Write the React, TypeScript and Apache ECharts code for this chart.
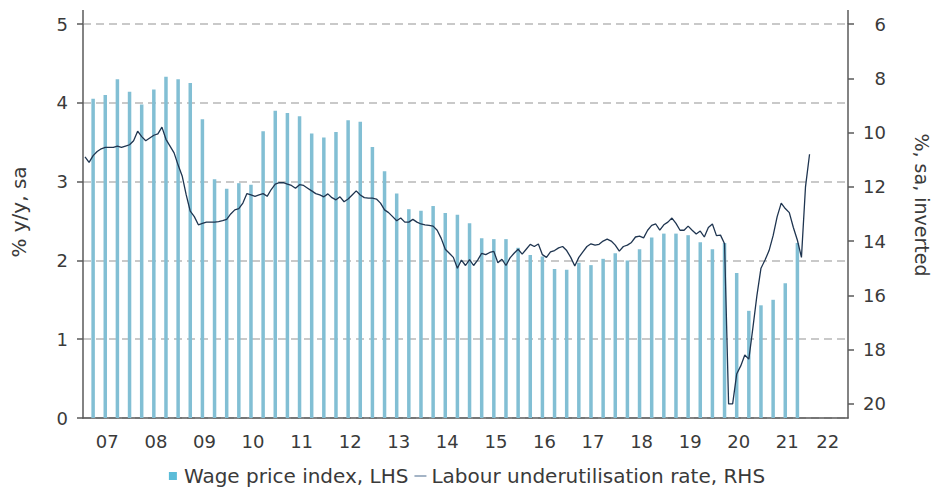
import { useEffect, useRef } from 'react';
import * as echarts from 'echarts';

const FONT = '"DejaVu Sans", Verdana, sans-serif';
const TEXT_COLOR = '#3a3a3a';
const AXIS_COLOR = '#5a5a5a';

// x-axis year labels (2007 .. 2022)
const yearLabels = ['07', '08', '09', '10', '11', '12', '13', '14', '15', '16', '17', '18', '19', '20', '21', '22'];

// Wage price index, % y/y, quarterly, Q1 2007 .. Q3 2021 (LHS)
const wagePriceIndex = [
  4.05, 4.1, 4.3, 4.14, 3.98, 4.17, 4.33, 4.3, 4.25, 3.79,
  3.03, 2.91, 2.98, 2.96, 3.64, 3.9, 3.87, 3.83, 3.61, 3.56,
  3.63, 3.78, 3.76, 3.44, 3.13, 2.85, 2.65, 2.63, 2.69, 2.6,
  2.58, 2.47, 2.28, 2.27, 2.27, 2.16, 2.07, 2.05, 1.89, 1.88,
  1.97, 1.94, 2.02, 2.09, 2.0, 2.14, 2.29, 2.34, 2.34, 2.32,
  2.23, 2.14, 2.22, 1.84, 1.36, 1.43, 1.5, 1.71, 2.22,
];

// Labour underutilisation rate, %, monthly, Jan 2007 .. Dec 2021 (RHS, inverted)
const underutil2007 = [10.9, 11.1, 10.85, 10.7, 10.6, 10.55, 10.55, 10.55, 10.5, 10.55, 10.5, 10.45];
const underutil2008 = [10.3, 9.95, 10.15, 10.3, 10.2, 10.1, 10.05, 9.8, 10.25, 10.5, 10.75, 11.2];
const underutil2009 = [11.6, 12.3, 12.9, 13.1, 13.4, 13.35, 13.3, 13.3, 13.3, 13.28, 13.25, 13.2];
const underutil2010 = [13.0, 12.85, 12.8, 12.6, 12.25, 12.3, 12.35, 12.3, 12.25, 12.35, 12.1, 11.9];
const underutil2011 = [11.85, 11.85, 11.9, 11.95, 12.05, 11.92, 11.95, 12.05, 12.15, 12.25, 12.3, 12.37];
const underutil2012 = [12.26, 12.4, 12.48, 12.37, 12.55, 12.45, 12.3, 12.15, 12.3, 12.4, 12.42, 12.42];
const underutil2013 = [12.45, 12.6, 12.85, 12.95, 13.1, 13.25, 13.15, 13.3, 13.3, 13.2, 13.3, 13.37];
const underutil2014 = [13.4, 13.42, 13.45, 13.6, 13.9, 14.3, 14.45, 14.6, 15.0, 14.7, 14.9, 14.68];
const underutil2015 = [14.9, 14.7, 14.45, 14.5, 14.42, 14.38, 14.8, 14.67, 14.9, 14.62, 14.45, 14.3];
const underutil2016 = [14.48, 14.3, 14.12, 14.2, 14.11, 14.5, 14.6, 14.4, 14.35, 14.25, 14.2, 14.35];
const underutil2017 = [14.6, 14.92, 14.6, 14.4, 14.2, 14.1, 14.15, 14.12, 14.0, 13.93, 14.0, 14.15];
const underutil2018 = [14.37, 14.2, 14.15, 14.05, 13.85, 13.82, 13.88, 13.6, 13.42, 13.37, 13.6, 13.4];
const underutil2019 = [13.3, 13.15, 13.35, 13.6, 13.6, 13.45, 13.6, 13.74, 13.63, 13.85, 13.5, 13.37];
const underutil2020 = [13.8, 13.78, 14.1, 20.0, 20.0, 18.9, 18.6, 18.2, 18.35, 17.2, 16.0, 15.0];
const underutil2021 = [14.7, 14.35, 13.8, 13.1, 12.6, 12.8, 12.95, 13.5, 13.97, 14.6, 12.0, 10.8];

const underutilisation = [
  ...underutil2007, ...underutil2008, ...underutil2009, ...underutil2010, ...underutil2011,
  ...underutil2012, ...underutil2013, ...underutil2014, ...underutil2015, ...underutil2016,
  ...underutil2017, ...underutil2018, ...underutil2019, ...underutil2020, ...underutil2021,
];

const WAGE_NAME = 'Wage price index, LHS';
const LABOUR_NAME = 'Labour underutilisation rate, RHS';

export default function App() {
  const ref = useRef<HTMLDivElement>(null);

  useEffect(() => {
    if (!ref.current) return;
    const chart = echarts.init(ref.current, null, { renderer: 'svg' });

    // monthly categories Jan 2007 .. Sep 2022
    const months: string[] = [];
    for (let y = 2007; y <= 2022; y++) {
      for (let m = 1; m <= 12; m++) {
        if (y === 2022 && m > 9) break;
        months.push(`${y}-${String(m).padStart(2, '0')}`);
      }
    }
    const barData = months.map((_, i) => {
      const q = (i - 2) / 3;
      return i % 3 === 2 && q < wagePriceIndex.length ? wagePriceIndex[q] : null;
    });
    const lineData = months.map((_, i) => (i < underutilisation.length ? underutilisation[i] : null));

    const labelStyle = { fontFamily: FONT, fontSize: 18, color: TEXT_COLOR };

    chart.setOption({
      animation: false,
      grid: { left: 83, right: 86, top: 24, bottom: 70 },
      legend: {
        left: 'center',
        top: 461,
        itemWidth: 12,
        itemHeight: 8,
        itemGap: 6,
        symbolKeepAspect: true,
        textStyle: { fontFamily: FONT, fontSize: 20, color: TEXT_COLOR },
        data: [
          { name: WAGE_NAME, icon: 'path://M0,0H8V8H0Z', itemStyle: { color: '#5bbcd8' } },
          { name: LABOUR_NAME, icon: 'path://M0,0H12V1.6H0Z', itemStyle: { color: '#8ea2b8' } },
        ],
      },
      xAxis: {
        type: 'category',
        data: months,
        boundaryGap: true,
        axisLine: { lineStyle: { color: AXIS_COLOR, width: 1.5 } },
        axisTick: {
          interval: (i: number) => i % 12 === 0,
          length: 6,
          lineStyle: { color: AXIS_COLOR, width: 1.5 },
        },
        axisLabel: {
          ...labelStyle,
          interval: (i: number) => i % 12 === 6 || i === 184,
          formatter: (v: string) => yearLabels[parseInt(v.slice(0, 4), 10) - 2007],
          margin: 14,
          padding: [0, 4, 0, 0],
        },
        splitLine: { show: false },
      },
      yAxis: [
        {
          type: 'value',
          min: 0,
          max: 5,
          interval: 1,
          axisLine: { show: true, lineStyle: { color: AXIS_COLOR, width: 1.5 } },
          axisTick: { show: true, length: 6, lineStyle: { color: AXIS_COLOR, width: 1.5 } },
          axisLabel: { ...labelStyle, margin: 15 },
          splitLine: { show: true, lineStyle: { type: [8, 5], color: '#b8b8b8', width: 1.6 } },
        },
        {
          type: 'value',
          position: 'right',
          inverse: true,
          min: 6,
          max: 20.52,
          interval: 2,
          axisLine: { show: true, lineStyle: { color: AXIS_COLOR, width: 1.5 } },
          axisTick: { show: true, length: 6, lineStyle: { color: AXIS_COLOR, width: 1.5 } },
          axisLabel: { ...labelStyle, margin: 38, align: 'right', showMaxLabel: false },
          splitLine: { show: false },
        },
      ],
      series: [
        {
          type: 'bar',
          name: WAGE_NAME,
          data: barData,
          barWidth: 3.5,
          itemStyle: { color: '#82bfd4' },
          z: 2,
        },
        {
          type: 'line',
          name: LABOUR_NAME,
          yAxisIndex: 1,
          data: lineData,
          symbol: 'none',
          showSymbol: false,
          lineStyle: { color: '#1f3550', width: 1.3 },
          itemStyle: { color: '#1f3550' },
          z: 3,
        },
      ],
      graphic: [
        {
          type: 'text',
          x: 19,
          y: 212,
          rotation: Math.PI / 2,
          style: { text: '% y/y, sa', fontFamily: FONT, fontSize: 20, fill: TEXT_COLOR, align: 'center', verticalAlign: 'middle' },
        },
        {
          type: 'text',
          x: 922,
          y: 205,
          rotation: -Math.PI / 2,
          style: { text: '%, sa, inverted', fontFamily: FONT, fontSize: 19, fill: TEXT_COLOR, align: 'center', verticalAlign: 'middle' },
        },
        { type: 'line', shape: { x1: 83, y1: 10, x2: 83, y2: 24 }, style: { stroke: AXIS_COLOR, lineWidth: 1.5 } },
        { type: 'line', shape: { x1: 848, y1: 10, x2: 848, y2: 24 }, style: { stroke: AXIS_COLOR, lineWidth: 1.5 } },
      ],
    });

    return () => chart.dispose();
  }, []);

  return <div ref={ref} style={{ position: 'absolute', left: 0, top: 0, width: 934, height: 488 }} />;
}
